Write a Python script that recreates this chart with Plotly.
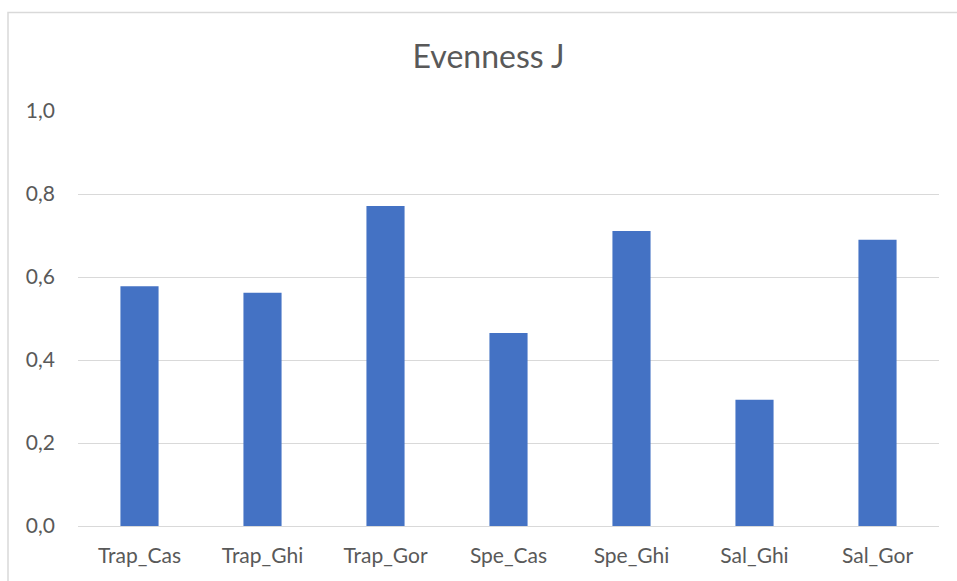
import plotly.graph_objects as go

categories = ["Trap_Cas", "Trap_Ghi", "Trap_Gor", "Spe_Cas", "Spe_Ghi", "Sal_Ghi", "Sal_Gor"]
evenness = [0.578, 0.562, 0.771, 0.465, 0.711, 0.304, 0.690]
y_ticks = [0.0, 0.2, 0.4, 0.6, 0.8, 1.0]
y_tick_labels = ["0,0", "0,2", "0,4", "0,6", "0,8", "1,0"]

FONT = "Lato"
GREY = "#595959"

fig = go.Figure()
fig.add_trace(go.Bar(x=categories, y=evenness, marker=dict(color="#4472C4", line=dict(width=0)),
                     hoverinfo="x+y"))

fig.update_layout(
    width=957, height=581,
    margin=dict(l=78, r=18, t=111, b=55),
    paper_bgcolor="white", plot_bgcolor="white",
    bargap=0.69,
    showlegend=False,
    font=dict(family=FONT, color=GREY, size=21),
    title=dict(text="Evenness J", x=(488.5 - 78) / 861, xref="paper", xanchor="center",
               y=1 - 57 / 581, yref="container", yanchor="middle",
               font=dict(family=FONT, size=32, color=GREY)),
    xaxis=dict(showgrid=False, showline=False, zeroline=False, ticks="",
               tickfont=dict(size=21, color=GREY), ticklabelstandoff=15),
    yaxis=dict(range=[0, 1.0], tickvals=y_ticks, ticktext=y_tick_labels,
               showgrid=True, gridcolor="#D9D9D9", gridwidth=1,
               zeroline=True, zerolinecolor="#D9D9D9", zerolinewidth=1,
               showline=False, ticks="", ticklabelstandoff=22,
               tickfont=dict(size=21, color=GREY)),
    shapes=[dict(type="rect", xref="paper", yref="paper",
                 x0=(8 - 78) / 861, x1=(975 - 78) / 861,
                 y0=(526 - 600) / 415, y1=(526 - 12.5) / 415,
                 line=dict(color="#D9D9D9", width=1.5), layer="below")],
)

fig.write_html("out.html", config={"displayModeBar": False},
               post_script="document.body.style.margin='0';document.body.style.overflow='hidden';")
